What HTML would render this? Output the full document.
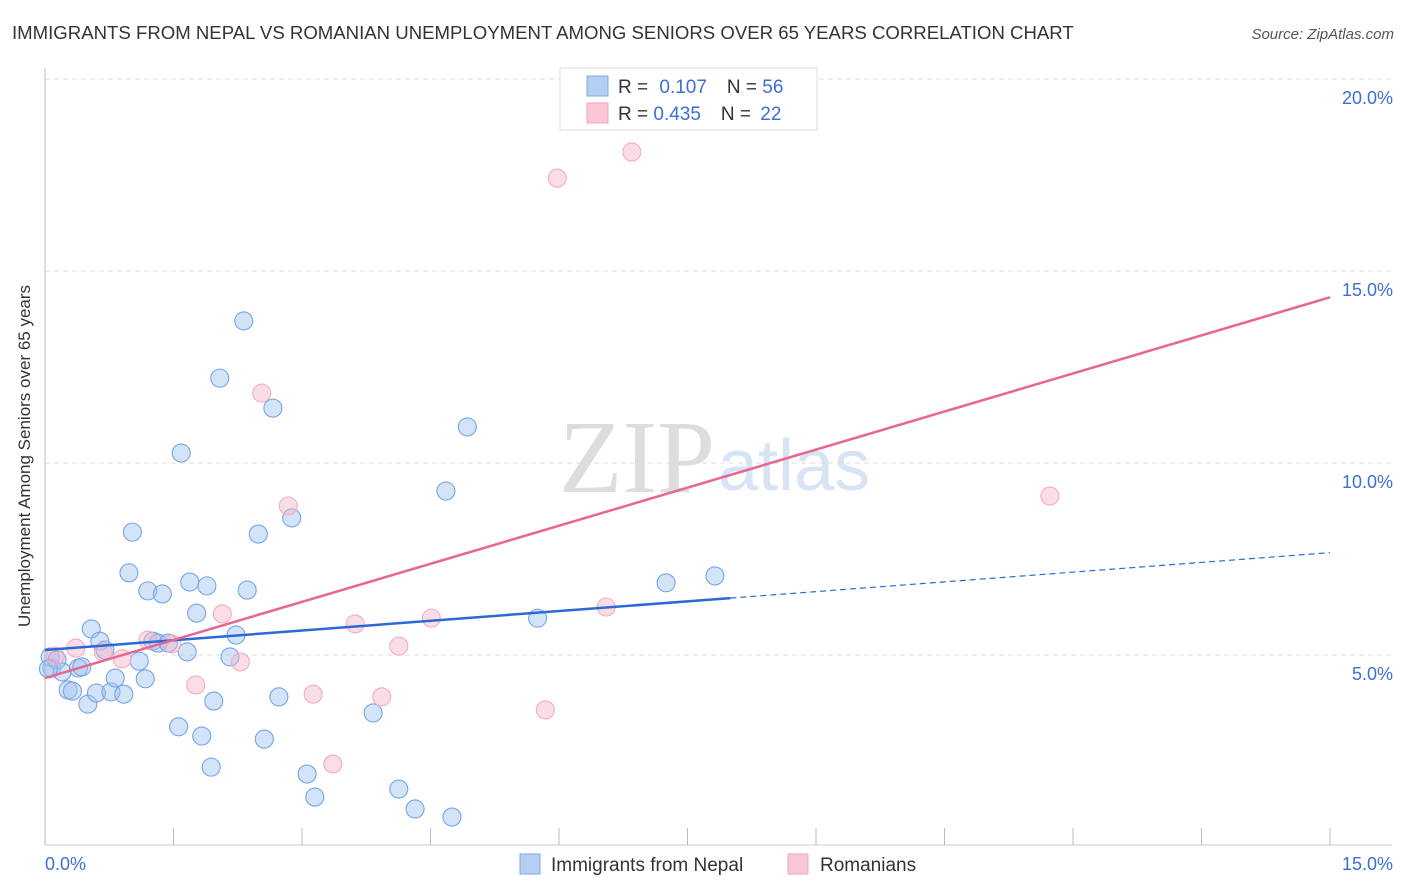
<!DOCTYPE html>
<html><head><meta charset="utf-8"><style>
body{margin:0;background:#fff;font-family:"Liberation Sans",sans-serif;}
svg{display:block}
</style></head><body>
<svg id="chart" width="1406" height="892" xmlns="http://www.w3.org/2000/svg">
<text x="12" y="39" font-size="18.6" fill="#333">IMMIGRANTS FROM NEPAL VS ROMANIAN UNEMPLOYMENT AMONG SENIORS OVER 65 YEARS CORRELATION CHART</text>
<text x="1394" y="39" font-size="15" fill="#555" font-style="italic" text-anchor="end">Source: ZipAtlas.com</text>
<text x="715" y="492" font-size="104" fill="#ddd" font-family="Liberation Serif,serif" text-anchor="end">ZIP</text>
<text x="718" y="490" font-size="72" fill="#d6e4f5">atlas</text>
<g id="grid"></g>
<line x1="45" y1="68" x2="45" y2="845" stroke="#bbb"/>
<line x1="45" y1="845" x2="1392" y2="845" stroke="#ccc"/>
<g id="xticks"></g>
<text x="30" y="456" font-size="17" fill="#333" text-anchor="middle" transform="rotate(-90 30 456)">Unemployment Among Seniors over 65 years</text>
<text x="45" y="870" font-size="18" fill="#3b6fd1">0.0%</text>
<text x="1393" y="870" font-size="18" fill="#3b6fd1" text-anchor="end">15.0%</text>
<g id="pts"></g>
<g id="lines"></g>
<g>
<rect x="560" y="68" width="257" height="62" fill="#fff" stroke="#ddd"/>
<rect x="587" y="76" width="21" height="20" fill="#b5cff3" stroke="#7fa7e6"/>
<rect x="587" y="103" width="21" height="20" fill="#f9c7d6" stroke="#f2a3bb"/>
<text x="618" y="93" font-size="19" fill="#333">R = <tspan fill="#3b6fd1" dx="6">0.107</tspan><tspan dx="20">N = </tspan><tspan fill="#3b6fd1">56</tspan></text>
<text x="618" y="120" font-size="19" fill="#333">R = <tspan fill="#3b6fd1">0.435</tspan><tspan dx="20">N = </tspan><tspan fill="#3b6fd1" dx="4">22</tspan></text>
</g>
<g>
<rect x="520" y="854" width="20" height="20" fill="#b5cff3" stroke="#7fa7e6"/>
<text x="551" y="871" font-size="19" fill="#333">Immigrants from Nepal</text>
<rect x="788" y="854" width="20" height="20" fill="#f9c7d6" stroke="#f2a3bb"/>
<text x="820" y="871" font-size="19" fill="#333">Romanians</text>
</g>
</svg>
<script>
const yTicks=[5,10,15,20];
const yTickLabels=["5.0%","10.0%","15.0%","20.0%"];
const xTicks=[0,1.5,3,4.5,6,7.5,9,10.5,12,13.5,15];
const nepalX=[0.08,0.06,0.14,0.20,0.27,0.32,0.39,0.43,0.50,0.54,0.60,0.64,0.70,0.77,0.82,0.92,1.02,0.98,1.10,1.17,1.20,1.26,1.32,1.37,1.44,1.56,1.59,1.66,1.69,1.77,1.83,1.89,1.94,1.97,2.04,2.16,2.23,2.32,2.36,2.49,2.56,2.66,2.73,2.88,3.06,3.15,3.83,4.13,4.32,4.68,4.75,4.93,5.75,7.25,7.82,0.04];
const nepalY=[4.66,4.95,4.87,4.56,4.09,4.06,4.66,4.69,3.72,5.68,4.01,5.36,5.13,4.04,4.40,3.98,8.20,7.14,4.84,4.38,6.67,5.36,5.31,6.59,5.31,3.13,10.26,5.08,6.90,6.09,2.89,6.80,2.08,3.80,12.21,4.95,5.52,13.70,6.69,8.15,2.81,11.43,3.91,8.57,1.90,1.30,3.49,1.51,0.99,9.27,0.78,10.94,5.96,6.88,7.06,4.64];
const romX=[0.12,0.36,0.68,0.90,1.20,1.48,1.76,2.07,2.28,2.53,2.84,3.13,3.36,3.62,3.93,4.13,4.51,5.84,5.98,6.55,6.85,11.73];
const romY=[4.97,5.18,5.08,4.90,5.39,5.29,4.22,6.07,4.82,11.82,8.88,3.98,2.16,5.81,3.91,5.23,5.96,3.57,17.42,6.25,18.10,9.14];
const nepalFit=[5.13,0.169];
const romFit=[4.40,0.661];
const nepalSolidEnd=8.0;
const X=v=>45+v/15*1285;
const Y=v=>847-v/20*768;
const NS="http://www.w3.org/2000/svg";
function mk(tag,attrs,parent){const e=document.createElementNS(NS,tag);for(const k in attrs)e.setAttribute(k,attrs[k]);document.getElementById(parent).appendChild(e);return e;}
yTicks.forEach((t,i)=>{
 const l=mk('line',{x1:45,x2:1392,y1:Y(t),y2:Y(t),stroke:'#ddd','stroke-dasharray':'5,4'},'grid');
 
 
 const tx=mk('text',{x:1393,y:Y(t)+25,'font-size':18,fill:'#3b6fd1','text-anchor':'end'},'grid');
 tx.textContent=yTickLabels[i];
 
 
});
xTicks.forEach(t=>{
 const l=mk('line',{x1:X(t),x2:X(t),y1:828,y2:845,stroke:'#bbb'},'xticks');
 
 
});
nepalX.forEach((x,i)=>{
 const c=mk('circle',{cx:X(x),cy:Y(nepalY[i]),r:9,fill:'rgba(160,195,240,0.45)',stroke:'#76a4e6','stroke-width':1.1},'pts');
 
 
});
romX.forEach((x,i)=>{
 const c=mk('circle',{cx:X(x),cy:Y(romY[i]),r:9,fill:'rgba(246,180,200,0.45)',stroke:'#f2acc0','stroke-width':1.1},'pts');
 
 
});
const f=(p,x)=>p[0]+p[1]*x;
let l1=mk('line',{x1:X(0),y1:Y(f(nepalFit,0)),x2:X(nepalSolidEnd),y2:Y(f(nepalFit,nepalSolidEnd)),stroke:'#2a6ad6','stroke-width':2.5},'lines');


let l2=mk('line',{x1:X(nepalSolidEnd),y1:Y(f(nepalFit,nepalSolidEnd)),x2:X(15),y2:Y(f(nepalFit,15)),stroke:'#2a6ad6','stroke-width':1.2,'stroke-dasharray':'6,4'},'lines');


let l3=mk('line',{x1:X(0),y1:Y(f(romFit,0)),x2:X(15),y2:Y(f(romFit,15)),stroke:'#e8668f','stroke-width':2.5},'lines');


</script>
</body></html>
